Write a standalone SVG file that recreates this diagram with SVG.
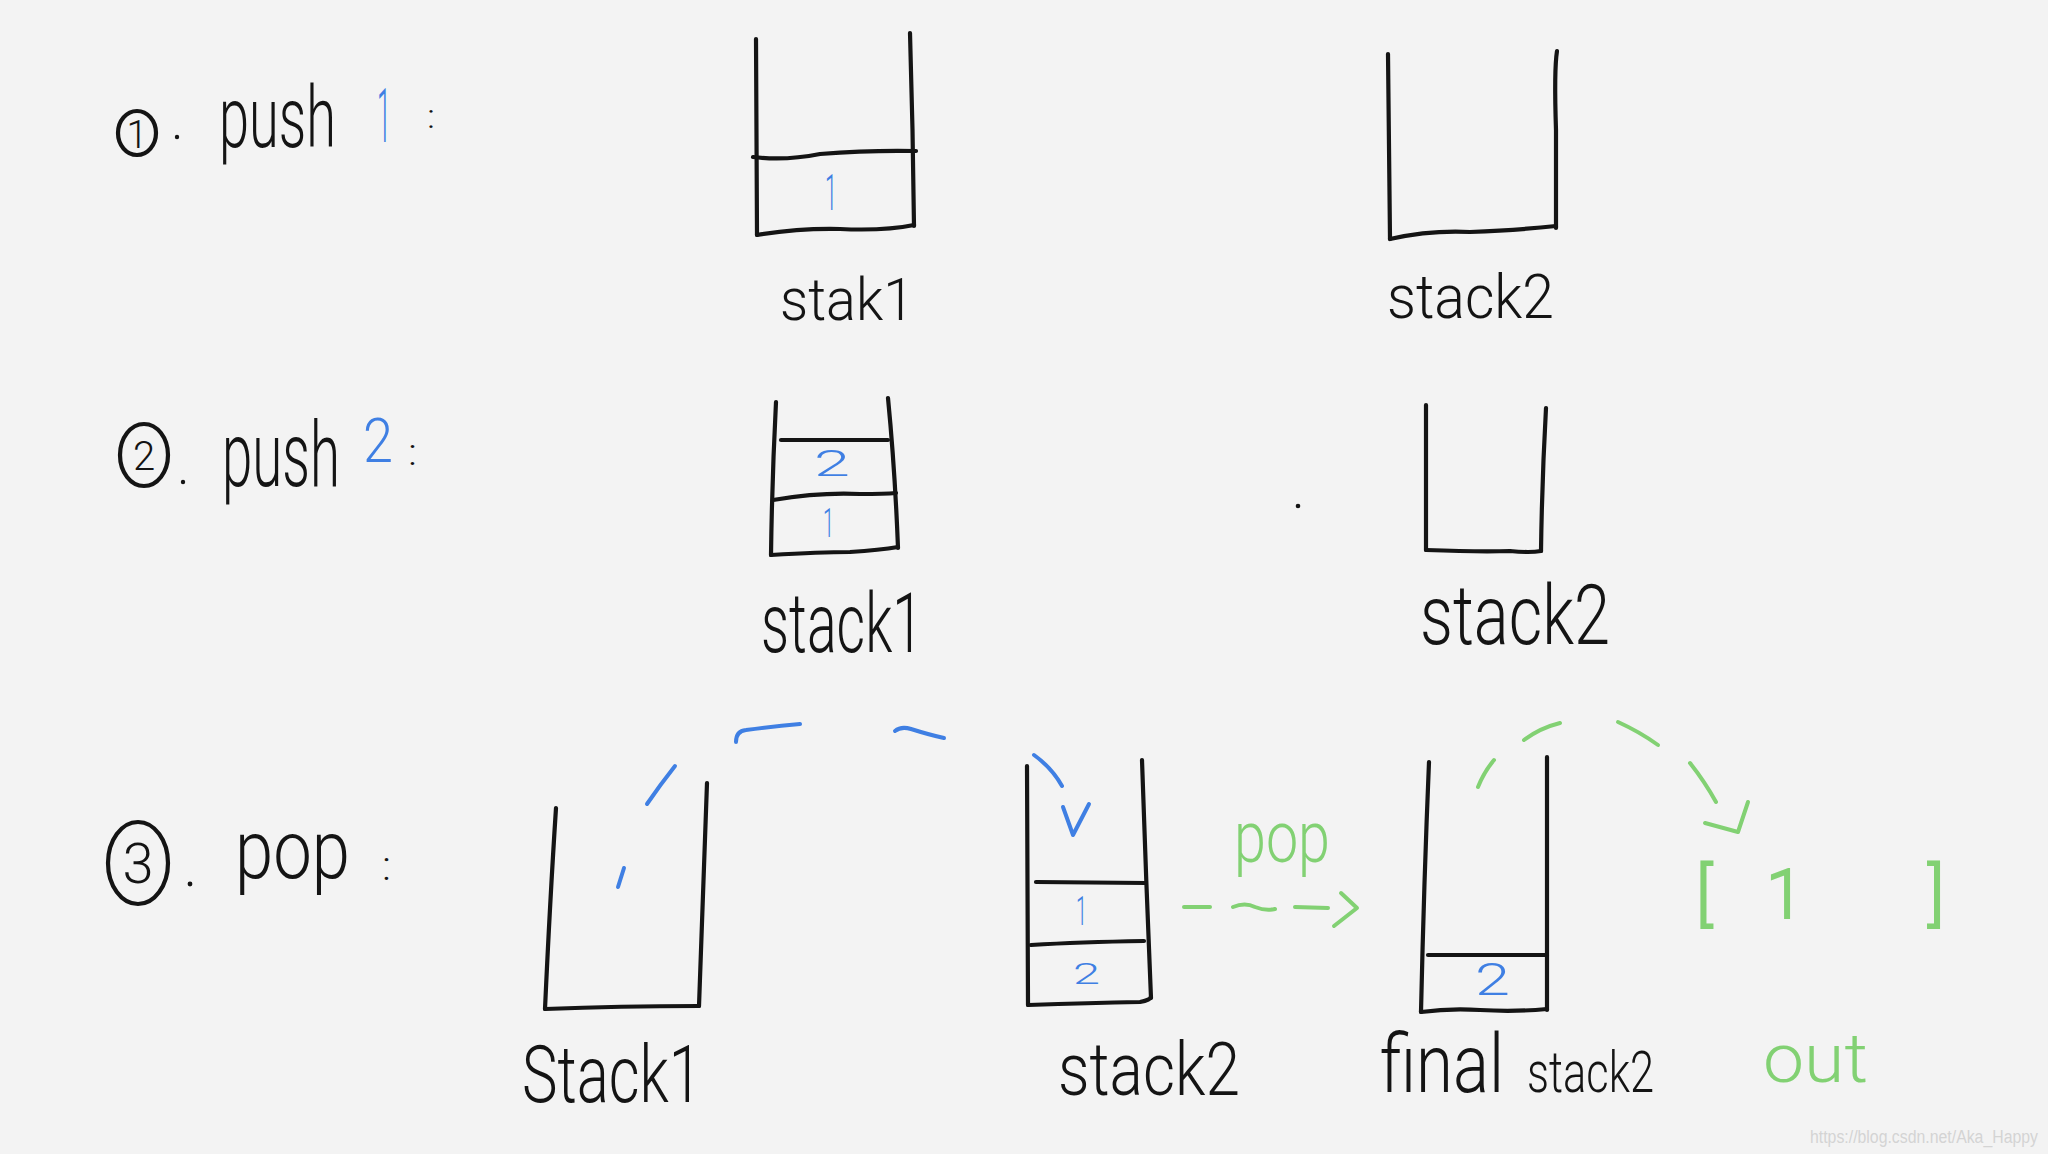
<svg xmlns="http://www.w3.org/2000/svg" width="2048" height="1154" viewBox="0 0 2048 1154">
<style>
.ink{fill:none;stroke:#141414;stroke-width:4.2;stroke-linecap:round;stroke-linejoin:round}
.bl{fill:none;stroke:#3f7fe3;stroke-width:4;stroke-linecap:round;stroke-linejoin:round}
.gr{fill:none;stroke:#82d173;stroke-width:4;stroke-linecap:round;stroke-linejoin:round}
.t{font-family:Roboto,"Liberation Sans",sans-serif;font-weight:300;fill:#141414}
.tb{font-family:Roboto,"Liberation Sans",sans-serif;font-weight:300;fill:#3f7fe3}
.tg{font-family:Roboto,"Liberation Sans",sans-serif;font-weight:300;fill:#82d173}
</style>
<rect width="2048" height="1154" fill="#f3f3f3"/>

<!-- headings -->
<g id="step1-title">
<ellipse class="ink" cx="137" cy="133" rx="19" ry="22" stroke-width="3.5"/>
<text class="t" x="137" y="148" font-size="38" text-anchor="middle">1</text>
<circle cx="177" cy="137" r="2.2" fill="#141414"/>
<text class="t" transform="translate(219,147) scale(0.624,1)" font-size="86" textLength="187.5" lengthAdjust="spacingAndGlyphs">push</text>
<text class="tb" transform="translate(377,142) scale(0.33,1)" font-size="76" textLength="42.4" lengthAdjust="spacingAndGlyphs">1</text>
<text class="t" x="427" y="128" font-size="34" textLength="8" lengthAdjust="spacingAndGlyphs">:</text>
</g>

<g id="step2-title">
<ellipse class="ink" cx="144" cy="455" rx="24" ry="31" stroke-width="3.5"/>
<text class="t" x="144" y="470" font-size="40" text-anchor="middle">2</text>
<circle cx="183" cy="482" r="2.2" fill="#141414"/>
<text class="t" transform="translate(222,486) scale(0.6,1)" font-size="90" textLength="196.7" lengthAdjust="spacingAndGlyphs">push</text>
<text class="tb" transform="translate(363,462) scale(0.86,1)" font-size="62" textLength="34.9" lengthAdjust="spacingAndGlyphs">2</text>
<text class="t" x="408" y="465" font-size="36" textLength="9" lengthAdjust="spacingAndGlyphs">:</text>
</g>

<g id="step3-title">
<ellipse class="ink" cx="138" cy="863" rx="30" ry="41" stroke-width="3.5"/>
<text class="t" x="138" y="883" font-size="56" text-anchor="middle">3</text>
<circle cx="190" cy="884" r="2.4" fill="#141414"/>
<text class="t" transform="translate(235,878) scale(0.82,1)" font-size="82" textLength="140.2" lengthAdjust="spacingAndGlyphs">pop</text>
<text class="t" x="382" y="880" font-size="40" textLength="9" lengthAdjust="spacingAndGlyphs">:</text>
</g>

<!-- row 1 -->
<g id="r1-stack1">
<path class="ink" d="M756,39 L757,235"/>
<path class="ink" d="M910,33 Q913,130 914,226"/>
<path class="ink" d="M753,157 Q785,161 820,154 Q870,150 916,151"/>
<path class="ink" d="M757,235 Q800,228 840,229 Q885,231 914,225"/>
<text class="tb" x="825" y="210" font-size="50" textLength="12" lengthAdjust="spacingAndGlyphs">1</text>
<text class="t" x="780" y="320" font-size="60" textLength="134" lengthAdjust="spacingAndGlyphs">stak1</text>
</g>

<g id="r1-stack2">
<path class="ink" d="M1388,54 L1390,239"/>
<path class="ink" d="M1557,51 Q1554,70 1556,130 L1556,228"/>
<path class="ink" d="M1390,239 Q1430,230 1470,232 Q1520,230 1556,226"/>
<text class="t" x="1387" y="318" font-size="62" textLength="167" lengthAdjust="spacingAndGlyphs">stack2</text>
</g>

<!-- row 2 -->
<g id="r2-stack1">
<path class="ink" d="M776,402 Q772,480 771,555"/>
<path class="ink" d="M888,398 Q895,470 898,548"/>
<path class="ink" d="M781,440 L888,440"/>
<path class="ink" d="M773,500 Q820,492 860,494 Q885,494 896,493"/>
<path class="ink" d="M771,555 Q820,552 850,552 Q880,550 898,547"/>
<text class="tb" x="814" y="476" font-size="36" textLength="36" lengthAdjust="spacingAndGlyphs">2</text>
<text class="tb" x="823" y="537" font-size="40" textLength="11" lengthAdjust="spacingAndGlyphs">1</text>
<text class="t" x="761" y="652" font-size="84" textLength="162" lengthAdjust="spacingAndGlyphs">stack1</text>
</g>

<circle id="r2-dot" cx="1298" cy="506" r="2.3" fill="#141414"/>

<g id="r2-stack2">
<path class="ink" d="M1426,405 L1426,550"/>
<path class="ink" d="M1546,408 Q1542,480 1541,551"/>
<path class="ink" d="M1426,550 Q1480,552 1510,551 Q1530,553 1541,551"/>
<text class="t" x="1420" y="644" font-size="84" textLength="190" lengthAdjust="spacingAndGlyphs">stack2</text>
</g>

<!-- row 3 -->
<g id="r3-stack1">
<path class="ink" d="M556,808 Q550,900 545,1009"/>
<path class="ink" d="M707,783 Q703,900 699,1006"/>
<path class="ink" d="M545,1009 Q620,1006 699,1006"/>
<text class="t" x="522" y="1102" font-size="80" textLength="180" lengthAdjust="spacingAndGlyphs">Stack1</text>
</g>

<g id="r3-stack2">
<path class="ink" d="M1027,766 L1028,1005"/>
<path class="ink" d="M1142,760 Q1146,880 1151,998"/>
<path class="ink" d="M1036,882 L1146,883"/>
<path class="ink" d="M1031,945 Q1080,942 1144,941"/>
<path class="ink" d="M1028,1005 Q1090,1003 1140,1002 Q1150,1000 1151,997"/>
<text class="tb" x="1076" y="925" font-size="40" textLength="11" lengthAdjust="spacingAndGlyphs">1</text>
<text class="tb" x="1073" y="984" font-size="30" textLength="27" lengthAdjust="spacingAndGlyphs">2</text>
<text class="t" x="1058" y="1095" font-size="74" textLength="182" lengthAdjust="spacingAndGlyphs">stack2</text>
</g>

<g id="r3-final-stack2">
<path class="ink" d="M1429,762 Q1424,880 1421,1012"/>
<path class="ink" d="M1547,757 L1547,1010"/>
<path class="ink" d="M1428,955 L1547,955"/>
<path class="ink" d="M1421,1012 Q1450,1008 1480,1010 Q1515,1012 1547,1009"/>
<text class="tb" x="1475" y="995" font-size="44" textLength="35" lengthAdjust="spacingAndGlyphs">2</text>
<text class="t" y="1092"><tspan x="1380" font-size="82" textLength="124" lengthAdjust="spacingAndGlyphs">final</tspan><tspan x="1527" font-size="58" textLength="127" lengthAdjust="spacingAndGlyphs">stack2</tspan></text>
</g>

<g id="r3-out">
<text class="tg" font-family="Liberation Serif,serif" font-size="68" stroke="#82d173" stroke-width="2" x="1696 1730 1766 1810 1928" y="918">[ 1 ]</text>
<text class="tg" x="1763" y="1082" font-size="68" textLength="105" lengthAdjust="spacingAndGlyphs">out</text>
</g>

<!-- connectors -->
<g id="connectors">
<g id="blue-transfer">
<path class="bl" d="M624,868 L618,887"/>
<path class="bl" d="M675,766 Q660,785 647,804"/>
<path class="bl" d="M736,742 Q736,731 746,730 Q775,726 800,724"/>
<path class="bl" d="M895,731 Q901,726 911,729 Q930,735 944,738"/>
<path class="bl" d="M1034,755 Q1052,768 1062,786"/>
<path class="bl" d="M1063,807 L1073,835 L1089,804"/>
</g>
<g id="green-pop-arrow">
<path class="gr" d="M1184,907 L1210,907"/>
<path class="gr" d="M1233,907 Q1245,902 1255,907 Q1265,911 1275,909"/>
<path class="gr" d="M1295,907 L1328,908"/>
<path class="gr" d="M1341,893 L1357,908 L1334,926"/>
<text class="tg" x="1234" y="862" font-size="72" textLength="96" lengthAdjust="spacingAndGlyphs">pop</text>
</g>
<g id="green-out-arc">
<path class="gr" d="M1478,787 Q1484,772 1494,760"/>
<path class="gr" d="M1524,740 Q1540,728 1560,723"/>
<path class="gr" d="M1618,722 Q1640,732 1658,745"/>
<path class="gr" d="M1690,763 Q1705,782 1716,802"/>
<path class="gr" d="M1705,823 L1738,832 L1748,802"/>
</g>
</g>

<text transform="translate(1810,1143) scale(0.8,1)" font-family="Liberation Sans,sans-serif" font-size="19" fill="#d4d4d4" textLength="285" lengthAdjust="spacingAndGlyphs">https://blog.csdn.net/Aka_Happy</text>
</svg>
